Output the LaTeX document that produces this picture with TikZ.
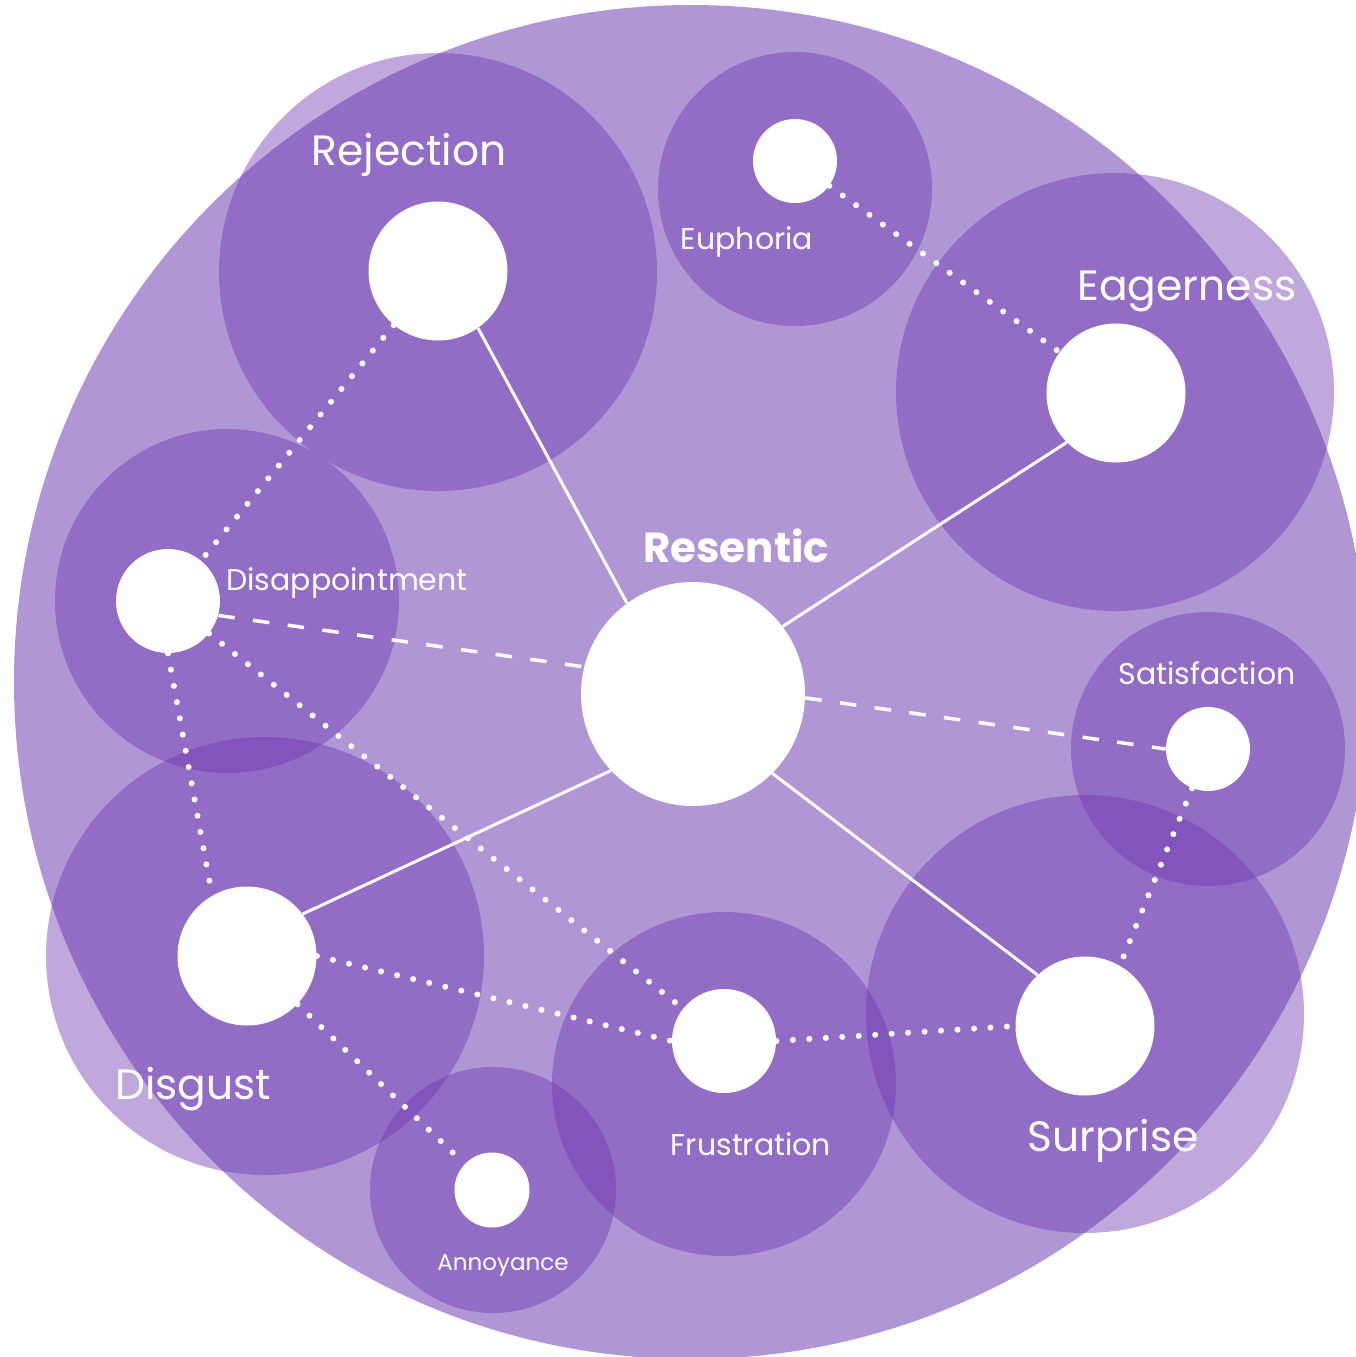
\documentclass[tikz,border=0pt]{standalone}
\usepackage{fontspec}
\setmainfont{Poppins}
\usetikzlibrary{positioning}
\definecolor{blobfill}{HTML}{B196D6}
\definecolor{halofill}{HTML}{6D35B1}

\begin{document}
\begin{tikzpicture}[x=0.5pt, y=-0.5pt,
        halo/.style={fill=halofill, fill opacity=0.43},
        feel/.style={circle, fill=white, inner sep=0pt},
        corefeel/.style={feel, minimum size=112pt},
        bigfeel/.style={feel, minimum size=69.5pt},
        midfeel/.style={feel, minimum size=52pt},
        smallfeel/.style={feel, minimum size=42pt},
        tinyfeel/.style={feel, minimum size=37.5pt},
        bigtag/.style={text=white, anchor=base, font=\fontsize{21.2}{24}\selectfont},
        midtag/.style={text=white, anchor=base, font=\fontsize{15}{18}\selectfont},
        smalltag/.style={text=white, anchor=base, font=\fontsize{11.5}{14}\selectfont},
        solidlink/.style={white, line width=1.5pt},
        dashlink/.style={white, line width=1.75pt, dash pattern=on 8.25pt off 9.25pt},
        dotlink/.style={white, line width=3pt, line cap=round, dash pattern=on 0pt off 8.25pt}]
    \useasboundingbox (0,0) rectangle (1356,1357);
    \clip (0,0) rectangle (1356,1357);

    % background blob
    \fill[blobfill] (691,682) circle[radius=677];

    % halos
    \fill[halo] (438,272) circle[radius=219];
    \fill[halo] (1115,392) circle[radius=219];
    \fill[halo] (1085,1014) circle[radius=219];
    \fill[halo] (265,956) circle[radius=219];
    \fill[halo] (227,601) circle[radius=172];
    \fill[halo] (724,1084) circle[radius=172];
    \fill[halo] (795,189) circle[radius=137];
    \fill[halo] (1208,749) circle[radius=137];
    \fill[halo] (493,1190) circle[radius=123];

    % feelings
    \node[corefeel] (resentic) at (693,694) {};
    \node[bigfeel] (rejection) at (438,271) {};
    \node[bigfeel] (eagerness) at (1116,393) {};
    \node[bigfeel] (surprise) at (1085,1026) {};
    \node[bigfeel] (disgust) at (247,956) {};
    \node[midfeel] (disappointment) at (168,601) {};
    \node[midfeel] (frustration) at (724,1041) {};
    \node[smallfeel] (euphoria) at (795,161) {};
    \node[smallfeel] (satisfaction) at (1208,749) {};
    \node[tinyfeel] (annoyance) at (492,1190) {};

    % labels
    \node[text=white, anchor=base, font=\fontsize{21}{24}\selectfont\bfseries] (resentictag) at (736,562) {Resentic};
    \node[bigtag] (rejectiontag) at (409,165) {Rejection};
    \node[bigtag] (eagernesstag) at (1187,300) {Eagerness};
    \node[bigtag] (surprisetag) at (1113,1151) {Surprise};
    \node[bigtag] (disgusttag) at (193,1099) {Disgust};
    \node[midtag] (disappointmenttag) at (347,590) {Disappointment};
    \node[midtag] (frustrationtag) at (751,1155) {Frustration};
    \node[midtag] (euphoriatag) at (747,249) {Euphoria};
    \node[midtag] (satisfactiontag) at (1207,684) {Satisfaction};
    \node[smalltag] (annoyancetag) at (503,1270) {Annoyance};

    % strong links
    \draw[solidlink] (rejection.-55) -- (resentic.126);
    \draw[solidlink] (resentic.37) -- (eagerness.-135);
    \draw[solidlink] (disgust.37) -- (resentic.-137);
    \draw[solidlink] (resentic.-45) -- (surprise.133);

    % weak links
    \draw[dashlink] (disappointment.-16) -- (resentic.166);
    \draw[dashlink] (resentic.-2) -- (satisfaction.west);

    % related feelings
    \draw[dotlink] (rejection) -- (disappointment);
    \draw[dotlink] (euphoria) -- (eagerness);
    \draw[dotlink] (disappointment.south) -- (disgust.120);
    \draw[dotlink] (disappointment) -- (frustration);
    \draw[dotlink] (disgust.east) -- (frustration.west);
    \draw[dotlink] (disgust) -- (annoyance);
    \draw[dotlink] (frustration.east) -- (surprise.west);
    \draw[dotlink] (satisfaction) -- (surprise.60);
\end{tikzpicture}
\end{document}
